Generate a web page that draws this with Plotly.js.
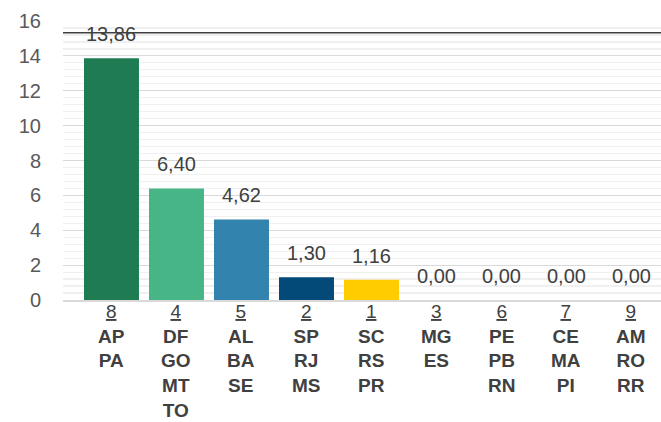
<!DOCTYPE html>
<html>
<head>
<meta charset="utf-8">
<script src="https://cdn.plot.ly/plotly-3.0.1.min.js"></script>
<style>html,body{margin:0;padding:0;background:#fff;}#chart{width:661px;height:422px;}</style>
</head>
<body>
<div id="chart"></div>
<script>
var groupNumbers = ['8', '4', '5', '2', '1', '3', '6', '7', '9'];
var groupStates = [
  ['AP', 'PA'],
  ['DF', 'GO', 'MT', 'TO'],
  ['AL', 'BA', 'SE'],
  ['SP', 'RJ', 'MS'],
  ['SC', 'RS', 'PR'],
  ['MG', 'ES'],
  ['PE', 'PB', 'RN'],
  ['CE', 'MA', 'PI'],
  ['AM', 'RO', 'RR']
];
var values = [13.86, 6.40, 4.62, 1.30, 1.16, 0.00, 0.00, 0.00, 0.00];
var barColors = ['#1E7B52', '#48B587', '#3283AD', '#034A78', '#FFCC00', '#FFFFFF', '#FFFFFF', '#FFFFFF', '#FFFFFF'];
var referenceValue = 15.33;
var yTicks = [0, 2, 4, 6, 8, 10, 12, 14, 16];

var FONT = 'Liberation Sans, Arial, sans-serif';
var cats = groupNumbers.map(function (n) { return 'g' + n; });
var labelText = groupNumbers.map(function (n, i) {
  return '<span style="text-decoration:underline">' + n + '</span><br>' +
    groupStates[i].map(function (s) { return '<b>' + s + '</b>'; }).join('<br>');
});
function fmt(v) { return v.toFixed(2).replace('.', ','); }

var trace = {
  type: 'bar',
  x: cats,
  y: values,
  marker: { color: barColors, line: { width: 0 } },
  hoverinfo: 'none'
};

var annotations = values.map(function (v, i) {
  return {
    x: cats[i], y: v, xref: 'x', yref: 'y',
    text: fmt(v), showarrow: false, yanchor: 'bottom', yshift: 11,
    font: { family: FONT, size: 20, color: '#404040' }
  };
});
labelText.forEach(function (t, i) {
  annotations.push({
    x: cats[i], y: 0, xref: 'x', yref: 'paper',
    text: t, showarrow: false, yanchor: 'top', xanchor: 'center', yshift: 1,
    align: 'center',
    font: { family: FONT, size: 19, color: '#404040' }
  });
});

var layout = {
  width: 661, height: 422,
  margin: { l: 63, r: 0, t: 21, b: 122, pad: 0 },
  paper_bgcolor: '#ffffff', plot_bgcolor: '#ffffff',
  showlegend: false,
  bargap: 0.154,
  font: { family: FONT, size: 19, color: '#404040' },
  xaxis: {
    type: 'category',
    range: [-0.746, 8.454],
    showticklabels: false,
    showgrid: false, zeroline: false,
    showline: true, linecolor: '#d9d9d9', linewidth: 1.5,
    ticks: '', fixedrange: true
  },
  yaxis: {
    range: [0, 16],
    tickmode: 'array', tickvals: yTicks,
    tickfont: { family: FONT, size: 20, color: '#595959' },
    showgrid: true, gridcolor: '#d9d9d9', gridwidth: 1.2,
    minor: { dtick: 0.4, showgrid: true, gridcolor: '#f0f0f0', gridwidth: 1.2 },
    zeroline: false, showline: false, ticks: '',
    ticklabelstandoff: 21, fixedrange: true
  },
  shapes: [{
    type: 'line', xref: 'paper', yref: 'y', x0: 0, x1: 1,
    y0: referenceValue, y1: referenceValue,
    line: { color: '#404040', width: 1.5 }
  }],
  annotations: annotations
};

Plotly.newPlot('chart', [trace], layout, { staticPlot: true, displayModeBar: false });
</script>
</body>
</html>
